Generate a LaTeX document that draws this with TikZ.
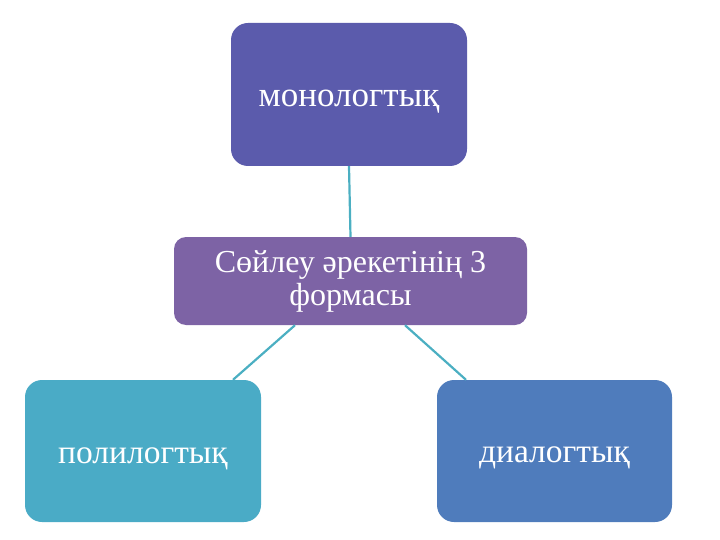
\documentclass[tikz,border=0pt]{standalone}
\usepackage{fontspec}
\setmainfont{Liberation Serif}
\definecolor{topc}{HTML}{5B5BAC}
\definecolor{midc}{HTML}{7D63A5}
\definecolor{leftc}{HTML}{4AABC6}
\definecolor{rightc}{HTML}{4F7CBC}
\definecolor{linec}{HTML}{4BAFC2}
\tikzset{
  box/.style={rectangle, rounded corners=17pt, inner sep=0pt, text=white, align=center},
  conn/.style={draw=linec, line width=2.2pt}
}
\begin{document}
\begin{tikzpicture}[x=1pt,y=-1pt]
\useasboundingbox (0,0) rectangle (720,540);
\node[box, fill=topc, minimum width=236pt, minimum height=143pt,
  font=\fontsize{35}{38}\selectfont, text height=25pt, text depth=0pt] (t) at (349,94.5) {монологтық};
\node[box, fill=midc, minimum width=353pt, minimum height=88pt, rounded corners=12pt,
  font=\fontsize{32}{33}\selectfont] (c) at (350.5,281) {Сөйлеу әрекетінің 3\\формасы};
\node[box, fill=leftc, minimum width=236pt, minimum height=142pt,
  font=\fontsize{33.5}{36}\selectfont, text height=24pt, text depth=0pt] (l) at (143,451) {полилогтық};
\node[box, fill=rightc, minimum width=235pt, minimum height=142pt,
  font=\fontsize{33.5}{36}\selectfont, text height=22pt, text depth=0pt] (r) at (554.5,451) {диалогтық};
\draw[conn] (t.south) -- (c.north);
\draw[conn] ([xshift=-55.5pt]c.south) -- ([xshift=90pt]l.north);
\draw[conn] ([xshift=54.5pt]c.south) -- ([xshift=-88.5pt]r.north);
\end{tikzpicture}
\end{document}
